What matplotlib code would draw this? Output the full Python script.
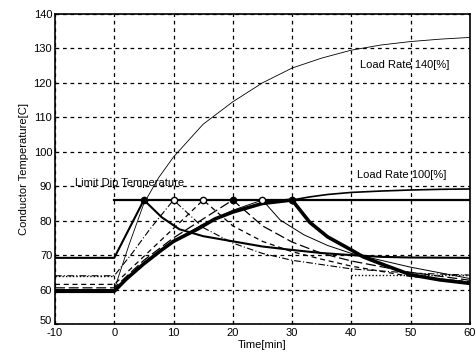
import matplotlib
matplotlib.use("Agg")
import matplotlib.pyplot as plt
import matplotlib.transforms as mtransforms
import numpy as np

plt.rcParams['font.family'] = ['Liberation Sans', 'DejaVu Sans']
plt.rcParams['axes.unicode_minus'] = False

# ---- data ----
# Load rate 140 % heating curve
t140 = [0, 2.5, 5, 7.5, 10, 15, 20, 25, 30, 35, 40, 45, 50, 55, 60]
T140 = [60, 73, 85, 92.5, 98.5, 108, 114.5, 120, 124.3, 127.2, 129.5, 131, 132, 132.7, 133.2]

# Load rate 100 % continuation after 30 min
t100 = [30, 33, 36, 40, 45, 50, 55, 60]
T100 = [86, 86.9, 87.6, 88.2, 88.6, 88.9, 89.1, 89.2]

# Limit dip temperature
limit_T = 86
limit_t = [0, 60]

# Scenario: reach limit at 5 min (medium solid)
tA = [-10, 0, 5, 8, 11, 15, 20, 25, 30, 35, 40, 45, 50, 60]
TA = [69.2, 69.2, 86, 81, 77.5, 75.5, 74, 72.5, 71.5, 70.6, 70, 69.5, 69.3, 69.2]

# Scenario: reach limit at 10 min (dash-dot)
tB = [-10, 0, 3, 6, 10, 15, 20, 25, 30, 40, 50, 60]
TB = [64, 64, 70.5, 77.5, 86, 78, 73.5, 70.5, 68.5, 66, 64.8, 64.2]

# Scenario: reach limit at 15 min (dashed)
tC = [-10, 0, 4, 8, 12, 15, 20, 25, 30, 35, 40, 50, 60]
TC = [61.5, 61.5, 68, 74.5, 81, 86, 78.5, 74, 71, 68.8, 66.8, 63.8, 62.3]

# Scenario: reach limit at 20 min (long dash)
tD = [-10, 0, 5, 10, 15, 20, 25, 30, 35, 40, 50, 60]
TD = [60.5, 60.5, 68.5, 75, 80.5, 86, 78.5, 73.8, 70.5, 68.3, 65, 62.7]

# Scenario: reach limit at 25 min (thin solid)
tE = [-10, 0, 5, 10, 15, 20, 25, 28, 32, 36, 40, 50, 60]
TE = [60, 60, 67.5, 74, 79, 83, 86, 80.2, 75.9, 72.8, 70.5, 66.5, 63.2]

# Scenario: reach limit at 30 min (thick)
tF = [-10, 0, 2, 5, 8, 10, 14, 17, 20, 25, 30, 33, 36, 40, 42, 45, 50, 55, 60]
TF = [59.5, 59.5, 63, 67.5, 71.5, 74, 77.5, 80.5, 82.5, 85, 86, 79.5, 75.3, 71.5, 69.5, 67.5, 64.3, 62.8, 61.8]

marker_t = [5, 10, 15, 20, 25, 30]
marker_filled = [True, False, False, True, False, True]

xticks = [-10, 0, 10, 20, 30, 40, 50, 60]
yticks = [50, 60, 70, 80, 90, 100, 110, 120, 130, 140]

# ---- figure ----
fig = plt.figure(figsize=(4.76, 3.59), dpi=100)
ax = fig.add_axes([0.1155, 0.0975, 0.8715, 0.8635])

ax.plot(t140, T140, color='black', lw=0.6)
ax.plot(t100, T100, color='black', lw=1.2)
ax.plot(limit_t, [limit_T, limit_T], color='black', lw=1.6)

ax.plot(tA, TA, color='black', lw=1.5, ls='-')
ax.plot(tB, TB, color='black', lw=0.8, ls=(0, (6, 2, 1, 2)))
ax.plot(tC, TC, color='black', lw=0.9, ls=(0, (4, 3)))
ax.plot(tD, TD, color='black', lw=0.9, ls=(0, (8, 3)))
ax.plot(tE, TE, color='black', lw=0.7, ls='-')
ax.plot(tF, TF, color='black', lw=2.6, ls='-')
# pre-load dotted level
ax.plot([-10, 0], [64, 64], color='black', lw=1.0, ls=(0, (1, 1.5)))
ax.plot([40, 60], [64.2, 64.2], color='black', lw=1.0, ls=(0, (1, 1.5)))

for t, filled in zip(marker_t, marker_filled):
    ax.plot([t], [limit_T], marker='o', ms=4.5, mec='black',
            mfc='black' if filled else 'white', mew=1.0, ls='none', zorder=5)

ax.text(-6.6, 91, 'Limit Dip Temperature', fontsize=8, ha='left', va='center')
ax.text(41.5, 125.3, 'Load Rate 140[%]', fontsize=8, ha='left', va='center')
ax.text(41, 93.3, 'Load Rate 100[%]', fontsize=8, ha='left', va='center')

ax.set_xlim(-10, 60)
ax.set_ylim(50, 140)
ax.set_xticks(xticks)
ax.set_yticks(yticks)
ax.tick_params(direction='in', length=2, labelsize=8)
ax.tick_params(axis='x', pad=3)
ax.tick_params(axis='y', pad=2)
ax.grid(True, color='black', ls=(0, (3, 3)), lw=0.9)
for s in ax.spines.values():
    s.set_linewidth(1.2)
ax.set_xlabel('Time[min]', fontsize=8, labelpad=1)
ax.set_ylabel('Conductor Temperature[C]', fontsize=8, labelpad=3)

# nudge the lowest y label up slightly so it clears the "-10" label
lbl = ax.get_yticklabels()[0]
lbl.set_transform(lbl.get_transform() + mtransforms.ScaledTranslation(0, 3 / 72, fig.dpi_scale_trans))

fig.savefig('out.png', dpi=100)
